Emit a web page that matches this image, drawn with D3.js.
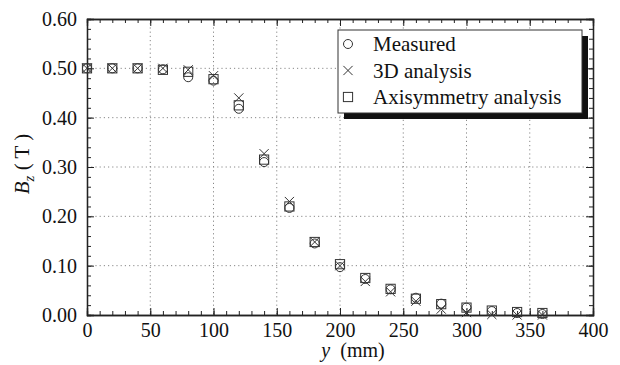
<!DOCTYPE html>
<html><head><meta charset="utf-8">
<script src="https://cdn.jsdelivr.net/npm/d3@7"></script>
</head><body style="margin:0">
<svg id="c" width="620" height="365" font-family="Liberation Serif"></svg>
<script>
const positions = [0,20,40,60,80,100,120,140,160,180,200,220,240,260,280,300,320,340,360];
const measured  = [0.500,0.500,0.500,0.498,0.482,0.475,0.418,0.310,0.217,0.145,0.097,0.073,0.052,0.035,0.023,0.015,0.008,0.004,0.002];
const analysis3D= [0.500,0.500,0.500,0.500,0.497,0.485,0.440,0.327,0.230,0.148,0.100,0.068,0.047,0.028,0.012,0.005,0.001,0.000,0.000];
const axisym    = [0.500,0.500,0.500,0.497,0.493,0.478,0.425,0.315,0.220,0.148,0.103,0.075,0.053,0.033,0.022,0.015,0.009,0.006,0.004];
const xTicks = [0,50,100,150,200,250,300,350,400];
const yTicks = [0,0.1,0.2,0.3,0.4,0.5,0.6];
const legendLabels = ["Measured","3D analysis","Axisymmetry analysis"];

const FONT = "Liberation Serif";
const svg = d3.select("#c");
const L=87,R=593,T=19,B=315;
const x = d3.scaleLinear().domain([0,400]).range([L,R]);
const y = d3.scaleLinear().domain([0,0.6]).range([B,T]);

// grid
const g = svg.append("g");
g.selectAll(".gx").data(xTicks.slice(1,-1)).join("line")
 .attr("x1",d=>x(d)).attr("x2",d=>x(d)).attr("y1",T).attr("y2",B)
 .attr("stroke","#888").attr("stroke-width",1).attr("stroke-dasharray","1.2,3");
g.selectAll(".gy").data(yTicks.slice(1,-1)).join("line")
 .attr("y1",d=>y(d)).attr("y2",d=>y(d)).attr("x1",L).attr("x2",R)
 .attr("stroke","#888").attr("stroke-width",1).attr("stroke-dasharray","1.2,3");

// axes with inward ticks
const xMinor = d3.range(0,401,10), yMinor = d3.range(0,0.601,0.02);
function addAxis(axis, tr){
  const a = svg.append("g").attr("transform",tr).call(axis);
  a.attr("font-family",FONT);
  a.select(".domain").attr("stroke","#222").attr("stroke-width",1.3);
  a.selectAll(".tick line").attr("stroke","#222");
  return a;
}
addAxis(d3.axisBottom(x).tickValues(xMinor).tickSize(-4).tickFormat(""),`translate(0,${B})`);
addAxis(d3.axisTop(x).tickValues(xMinor).tickSize(-4).tickFormat(""),`translate(0,${T})`);
addAxis(d3.axisLeft(y).tickValues(yMinor).tickSize(-4).tickFormat(""),`translate(${L},0)`);
addAxis(d3.axisRight(y).tickValues(yMinor).tickSize(-4).tickFormat(""),`translate(${R},0)`);
const xa = addAxis(d3.axisBottom(x).tickValues(xTicks).tickSize(-7).tickPadding(8).tickFormat(d3.format("d")),`translate(0,${B})`);
xa.selectAll("text").attr("font-size",20).attr("font-family",FONT).attr("fill","#111");
addAxis(d3.axisTop(x).tickValues(xTicks).tickSize(-7).tickFormat(""),`translate(0,${T})`);
const ya = addAxis(d3.axisLeft(y).tickValues(yTicks).tickSize(-7).tickPadding(10).tickFormat(d3.format(".2f")),`translate(${L},0)`);
ya.selectAll("text").attr("font-size",20).attr("font-family",FONT).attr("fill","#111");
addAxis(d3.axisRight(y).tickValues(yTicks).tickSize(-7).tickFormat(""),`translate(${R},0)`);

// markers
const stroke="#333";
function circle(sel,cx,cy){sel.append("circle").attr("cx",cx).attr("cy",cy).attr("r",4.5).attr("fill","none").attr("stroke",stroke).attr("stroke-width",1);}
function cross(sel,cx,cy){const s=4.6;sel.append("path").attr("d",`M${cx-s},${cy-s}L${cx+s},${cy+s}M${cx-s},${cy+s}L${cx+s},${cy-s}`).attr("fill","none").attr("stroke",stroke).attr("stroke-width",1);}
function square(sel,cx,cy){const s=4.6;sel.append("rect").attr("x",cx-s).attr("y",cy-s).attr("width",2*s).attr("height",2*s).attr("fill","none").attr("stroke",stroke).attr("stroke-width",1);}
const m = svg.append("g");
positions.forEach((p,i)=>{
  square(m,x(p),y(axisym[i]));
  cross(m,x(p),y(analysis3D[i]));
  circle(m,x(p),y(measured[i]));
});

// legend
const lg = svg.append("g");
lg.append("rect").attr("x",344).attr("y",36).attr("width",244).attr("height",83).attr("fill","#111");
lg.append("rect").attr("x",338).attr("y",30).attr("width",244).attr("height",83).attr("fill","#fff").attr("stroke","#333").attr("stroke-width",1);
const fns=[circle,cross,square];
legendLabels.forEach((t,i)=>{
  const cy = 44 + i*26.5;
  fns[i](lg,348,cy);
  lg.append("text").attr("x",373).attr("y",cy+7).attr("font-size",21).attr("font-family",FONT).attr("fill","#111").text(t);
});

// axis titles
const yt = svg.append("text").attr("transform","translate(29,164) rotate(-90)").attr("text-anchor","middle").attr("font-size",21).attr("font-family",FONT).attr("fill","#111");
yt.append("tspan").attr("font-style","italic").text("B");
yt.append("tspan").attr("font-style","italic").attr("font-size",15).attr("dy",5).text("z");
yt.append("tspan").attr("dy",-5).text(" ( T )");
const xt = svg.append("text").attr("x",353).attr("y",357).attr("text-anchor","middle").attr("font-size",20).attr("font-family",FONT).attr("fill","#111");
xt.append("tspan").attr("font-style","italic").text("y");
xt.append("tspan").text("\u00a0\u00a0(mm)");
</script>
</body></html>
